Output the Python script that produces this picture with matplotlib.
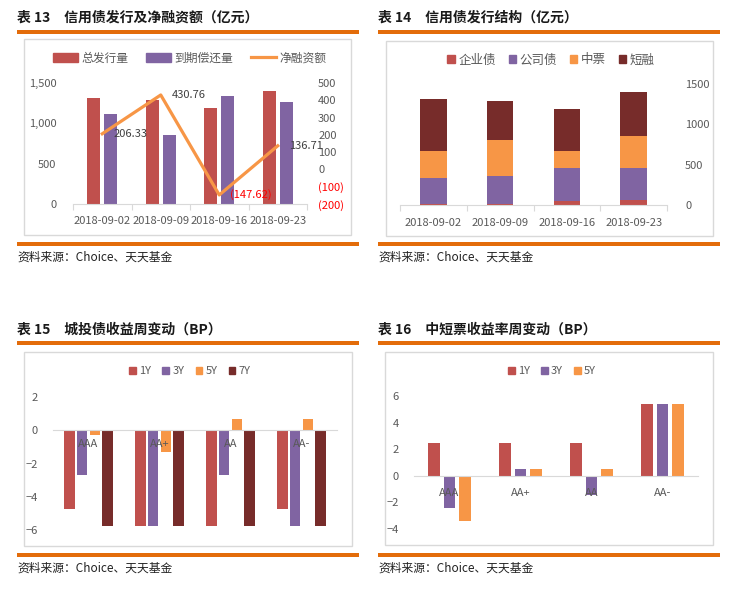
import matplotlib
matplotlib.use('Agg')
import matplotlib.pyplot as plt
import numpy as np
from matplotlib.patches import Rectangle, Patch
from matplotlib.lines import Line2D

plt.rcParams['font.family'] = ['Noto Sans CJK SC', 'DejaVu Sans']

# ---------------- data ----------------
dates = ['2018-09-02', '2018-09-09', '2018-09-16', '2018-09-23']
issuance = [1320, 1290, 1192, 1404]
maturity = [1114, 859, 1340, 1267]
net_financing = [206.33, 430.76, -147.62, 136.71]

enterprise_bond = [10, 10, 45, 62]
corporate_bond = [325, 350, 414, 397]
mtn = [334, 446, 210, 396]
short_cp = [645, 483, 521, 546]

ratings = ['AAA', 'AA+', 'AA', 'AA-']
ct_1y = [-4.74, -5.75, -5.75, -4.74]
ct_3y = [-2.67, -5.75, -2.67, -5.75]
ct_5y = [-0.26, -1.30, 0.68, 0.68]
ct_7y = [-5.75, -5.75, -5.75, -5.75]

mn_1y = [2.44, 2.44, 2.44, 5.41]
mn_3y = [-2.44, 0.52, -1.48, 5.41]
mn_5y = [-3.38, 0.52, 0.52, 5.41]

titles = ['表 13\u3000信用债发行及净融资额（亿元）', '表 14\u3000信用债发行结构（亿元）',
          '表 15\u3000城投债收益周变动（BP）', '表 16\u3000中短票收益率周变动（BP）']
source = '资料来源：Choice、天天基金'

# ---------------- style ----------------
W, H = 733, 590
fig = plt.figure(figsize=(W / 100, H / 100), dpi=100)

RULE = '#E36C0A'
RED = '#C0504D'; PURPLE = '#8064A2'; ORANGE = '#F79646'; DARK = '#772C2A'
TICK = '#595959'; GRID = '#D9D9D9'; BORDER = '#D9D9D9'


def rect(x0, y0, x1, y1):
    return [x0 / W, 1 - y1 / H, (x1 - x0) / W, (y1 - y0) / H]


def fx(x):
    return x / W


def fy(y):
    return 1 - y / H


def frame(x0, y0, x1, y1):
    fig.add_artist(Rectangle((fx(x0), fy(y1)), (x1 - x0) / W, (y1 - y0) / H,
                             transform=fig.transFigure, fill=False,
                             edgecolor=BORDER, lw=1.0))


def rule(x0, x1, y):
    fig.add_artist(Rectangle((fx(x0), fy(y + 2)), (x1 - x0) / W, 4 / H,
                             transform=fig.transFigure, facecolor=RULE,
                             edgecolor='none'))


def header(x, ytitle, yrule_top, yrule_bot, ysrc, title, xr1):
    fig.text(fx(x), fy(ytitle), title, fontsize=10, fontweight='bold',
             color='#1a1a1a', va='center', ha='left')
    rule(x, xr1, yrule_top)
    rule(x, xr1, yrule_bot)
    fig.text(fx(x), fy(ysrc), source, fontsize=8.5, color='#222222',
             va='center', ha='left')


header(17, 18, 32, 244, 257, titles[0], 359)
header(378, 18, 32, 244, 257, titles[1], 720)
header(17, 330, 343, 555, 568, titles[2], 359)
header(378, 330, 343, 555, 568, titles[3], 720)

frame(24, 39, 351, 235)
frame(386, 41, 713, 236)
frame(24, 352, 352, 546)
frame(385, 352, 713, 545)


def clean(ax):
    for s in ['top', 'right', 'left']:
        ax.spines[s].set_visible(False)
    ax.spines['bottom'].set_color(GRID)
    ax.tick_params(axis='y', length=0, colors=TICK, labelsize=8)


def cat_axis(ax, labels, pad):
    ax.set_xticks(np.arange(-0.5, len(labels), 1.0))
    ax.set_xticklabels([])
    ax.set_xticks(np.arange(len(labels)), minor=True)
    ax.set_xticklabels(labels, minor=True)
    ax.tick_params(axis='x', which='major', length=4, color=GRID, direction='out')
    ax.tick_params(axis='x', which='minor', length=0, colors=TICK,
                   labelsize=8, pad=pad)


# ---------------- panel 13 ----------------
x = np.arange(len(dates))
ax1 = fig.add_axes(rect(73, 83, 307, 204))
ax1.bar(x - 0.145, issuance, 0.22, color=RED, label='总发行量')
ax1.bar(x + 0.145, maturity, 0.22, color=PURPLE, label='到期偿还量')
ax1.set_xlim(-0.5, 3.5)
ax1.set_ylim(0, 1500)
ax1.set_yticks([0, 500, 1000, 1500])
ax1.set_yticklabels(['0', '500', '1,000', '1,500'])
clean(ax1)
ax1.tick_params(axis='y', pad=12)
cat_axis(ax1, dates, 9)

ax1r = ax1.twinx()
ax1r.plot(x, net_financing, color=ORANGE, lw=2.3, label='净融资额')
ax1r.set_ylim(-200, 500)
rt = list(range(-200, 501, 100))
ax1r.set_yticks(rt)
ax1r.set_yticklabels([f'({-v})' if v < 0 else str(v) for v in rt])
for s in ax1r.spines.values():
    s.set_visible(False)
ax1r.tick_params(axis='y', length=0, labelsize=8, pad=8)
for t, v in zip(ax1r.get_yticklabels(), rt):
    t.set_color('#FF0000' if v < 0 else TICK)
for xi, v in zip(x, net_financing):
    txt = f'({-v:.2f})' if v < 0 else f'{v:.2f}'
    ax1r.annotate(txt, (xi, v), xytext=(8, 0),
                  textcoords='offset points', ha='left', va='center',
                  fontsize=8, color='#FF0000' if v < 0 else '#404040')

h = [Patch(color=RED), Patch(color=PURPLE),
     Line2D([0], [0], color=ORANGE, lw=2.3)]
fig.legend(h, ['总发行量', '到期偿还量', '净融资额'], loc='center',
           bbox_to_anchor=(fx(190), fy(58)), ncol=3, frameon=False,
           fontsize=8.5, handlelength=2.1, handleheight=0.75,
           handletextpad=0.3, columnspacing=1.5, labelcolor=TICK)

# ---------------- panel 14 ----------------
ax2 = fig.add_axes(rect(400, 84, 667, 205))
b = np.zeros(len(dates))
series2 = [(enterprise_bond, RED, '企业债'), (corporate_bond, PURPLE, '公司债'),
           (mtn, ORANGE, '中票'), (short_cp, DARK, '短融')]
for vals, c, lab in series2:
    ax2.bar(x, vals, 0.4, bottom=b, color=c, label=lab)
    b = b + np.array(vals)
ax2.set_xlim(-0.5, 3.5)
ax2.set_ylim(0, 1500)
clean(ax2)
ax2.yaxis.tick_right()
ax2.set_yticks([0, 500, 1000, 1500])
ax2.tick_params(axis='y', length=0, colors=TICK, labelsize=8, pad=13)
cat_axis(ax2, dates, 9)
fig.legend([Patch(color=c) for _, c, _ in series2], [l for _, _, l in series2],
           loc='center', bbox_to_anchor=(fx(551), fy(60)), ncol=4,
           frameon=False, fontsize=9, handlelength=0.6, handleheight=0.6,
           handletextpad=0.3, columnspacing=1.0, labelcolor=TICK)

# ---------------- panel 15 ----------------
ax3 = fig.add_axes(rect(53, 397, 337, 530))
series3 = [(ct_1y, RED, '1Y'), (ct_3y, PURPLE, '3Y'), (ct_5y, ORANGE, '5Y'),
           (ct_7y, DARK, '7Y')]
step3 = 0.18
for i, (vals, c, lab) in enumerate(series3):
    ax3.bar(x + (i - 1.5) * step3, vals, 0.15, color=c, label=lab)
ax3.set_xlim(-0.5, 3.5)
ax3.set_ylim(-6, 2)
ax3.set_yticks([-6, -4, -2, 0, 2])
clean(ax3)
ax3.tick_params(axis='y', pad=11)
ax3.spines['bottom'].set_position(('data', 0))
ax3.set_xticks(x)
ax3.set_xticklabels(ratings)
ax3.tick_params(axis='x', length=0, colors=TICK, labelsize=8, pad=6)
fig.legend([Patch(color=c) for _, c, _ in series3], [l for _, _, l in series3],
           loc='center', bbox_to_anchor=(fx(190), fy(371)), ncol=4,
           frameon=False, fontsize=8, handlelength=0.6, handleheight=0.6,
           handletextpad=0.3, columnspacing=1.0, labelcolor=TICK)

# ---------------- panel 16 ----------------
ax4 = fig.add_axes(rect(414, 396, 698, 529))
series4 = [(mn_1y, RED, '1Y'), (mn_3y, PURPLE, '3Y'), (mn_5y, ORANGE, '5Y')]
step4 = 0.22
for i, (vals, c, lab) in enumerate(series4):
    ax4.bar(x + (i - 1) * step4, vals, 0.165, color=c, label=lab)
ax4.set_xlim(-0.5, 3.5)
ax4.set_ylim(-4, 6)
ax4.set_yticks([-4, -2, 0, 2, 4, 6])
clean(ax4)
ax4.tick_params(axis='y', pad=11)
ax4.spines['bottom'].set_position(('data', 0))
ax4.set_xticks(x)
ax4.set_xticklabels(ratings)
ax4.tick_params(axis='x', length=0, colors=TICK, labelsize=8, pad=9)
fig.legend([Patch(color=c) for _, c, _ in series4], [l for _, _, l in series4],
           loc='center', bbox_to_anchor=(fx(552), fy(371)), ncol=3,
           frameon=False, fontsize=8, handlelength=0.6, handleheight=0.6,
           handletextpad=0.3, columnspacing=1.0, labelcolor=TICK)

fig.savefig('out.png', dpi=100)
